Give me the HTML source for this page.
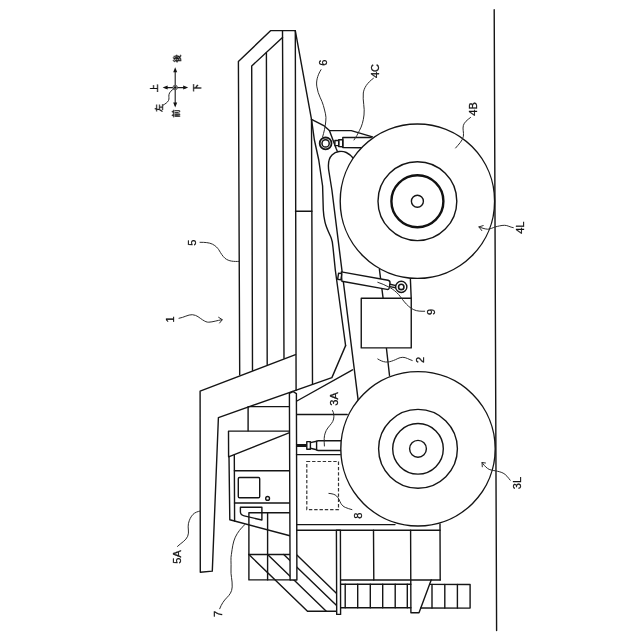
<!DOCTYPE html>
<html lang="ja">
<head>
<meta charset="utf-8">
<title>Dump truck side view</title>
<style>
html,body{margin:0;padding:0;background:#fff;width:640px;height:640px;overflow:hidden}
svg{display:block;position:absolute;left:0;top:0;filter:grayscale(1)}
.l{fill:none;stroke:#151515;stroke-width:1.4;stroke-linecap:round;stroke-linejoin:round}
.w{fill:#fff;stroke:#151515;stroke-width:1.4;stroke-linejoin:round}
.k{fill:none;stroke:#111;stroke-width:2.4}
.t{fill:none;stroke:#2a2a2a;stroke-width:1;stroke-linecap:round;stroke-linejoin:round}
.d{fill:none;stroke:#333;stroke-width:1.2;stroke-dasharray:3.4 1.9}
text{font-family:"Liberation Sans","Noto Sans CJK JP",sans-serif;font-size:11px;fill:#111;stroke:#111;stroke-width:0.3;text-anchor:middle}
.j{font-size:8px;stroke-width:0.15;font-family:"Liberation Sans","Noto Sans CJK JP",sans-serif;font-weight:700}
</style>
</head>
<body>
<svg width="640" height="640" viewBox="0 0 640 640">
<rect width="640" height="640" fill="#fff"/>

<!-- ground -->
<g id="ground">
<path class="l" d="M494.2 9.7L496.6 630.6"/>
</g>

<!-- dump body 5 -->
<g id="body">
<path class="l" d="M239.7 374.7L238.4 61.4L270.8 30.6L295.3 30.6"/>
<path class="l" d="M252.5 370.3L251.7 66L282.5 37.5"/>
<path class="l" d="M267.2 364.5L266.4 52.8"/>
<path class="l" d="M284 358.3L282.5 30.6"/>
<path class="l" d="M295.3 30.6L296.1 390.3"/>
<path class="l" d="M295.3 30.6L311.5 119.4L312.5 384.4"/>
<path class="l" d="M295.5 211.3L311.9 211.3"/>
</g>

<!-- canopy 5A -->
<g id="canopy">
<path class="l" d="M295.5 354.7L200.1 391.2L200.3 572.2L212.3 571.1L218.4 417.6L331.9 377.6L345.6 345.6"/>
</g>

<!-- frame 2 -->
<g id="frame">
<path class="l" d="M345.6 345.6L335.3 270L333 247.5Q332.6 241.5 331.2 238C329.3 233.5 326.3 228 325 222.2C324 218 323.5 214 323.3 210L322.6 186L318.75 160L314.4 140L311.5 119.4"/>
<path class="l" d="M358.2 400.6L331.9 190L329 172C327.6 164 329 158 332 155C336 151 342 150.5 346.3 152.5C349.5 154 352 156.5 353.75 158.75"/>
<path class="l" d="M296.9 401L352.5 369.8"/>
<path class="l" d="M296.4 414.5L347.2 414.5"/>
<path class="l" d="M311.5 119.4L323.75 125.6L329.4 130.6L351.25 130.6L372.5 136.9"/>
<path class="l" d="M329.4 130.6L336.25 148.75L337.3 151.3"/>
<path class="l" d="M386.4 348L389.5 375.3"/>
</g>

<!-- hoist pin 6 and rear suspension cylinder 4C -->
<g id="rear-susp">
<circle class="w" cx="325.6" cy="143.4" r="5.9" style="stroke-width:1.8"/>
<circle class="l" cx="325.6" cy="143.4" r="3.6" style="stroke-width:1.5"/>
<rect class="w" x="334.9" y="140.5" width="3.8" height="5.1"/>
<path class="l" d="M338.7 139.8L342.8 139.6L342.8 146.7L338.7 146.5Z"/>
<path class="l" d="M371.2 137.5L342.8 137.5L342.8 147.6L361.5 147.8"/>
</g>

<!-- hoist cylinder 9 -->
<g id="hoist">
<path class="l" d="M379.4 269.4L383.1 298.1"/>
<path class="l" d="M410.4 279.4L411.2 298.1"/>
<path class="w" d="M341.3 271.9L388 280.2Q390.3 280.8 390 283L389.4 287.5Q389 289.8 386.9 289.4L341.9 281.3Z"/>
<rect class="w" x="338.1" y="273.3" width="3.3" height="6.2" transform="rotate(9 339.7 276.4)"/>
<path class="l" d="M390 284.3L396 285.6M389.8 286.6L395.8 287.7"/>
<circle class="w" cx="401.25" cy="286.9" r="5.6"/>
<circle class="l" cx="401.25" cy="286.9" r="2.7" style="stroke-width:1.6"/>
<rect class="w" x="361.25" y="298.2" width="50" height="49.7"/>
</g>

<!-- cab 7 -->
<g id="cab">
<path class="l" d="M248.1 430.8L248.1 406.6L289.6 406.6"/>
<path class="l" d="M289.6 431.1L228.5 431.1L228.6 456.8L289.6 432.6"/>
<path class="l" d="M229 456.8L229.8 519.7L289.9 535.8"/>
<path class="l" d="M234.3 455L234.6 521"/>
<path class="l" d="M234.4 470.8L289.8 470.8"/>
<path class="l" d="M234.5 503L290 503"/>
<rect class="l" x="238.3" y="477.5" width="21.4" height="20.2" rx="1.2"/>
<circle class="l" cx="267.6" cy="498.4" r="1.9"/>
<path class="l" d="M240.4 507.3L261.9 507.3L261.9 520L244.2 515.9Q240.6 515 240.4 512Z"/>
<path class="l" d="M290 512.7L248.9 512.7L248.9 579.9L290.2 579.9"/>
<path class="l" d="M267.6 512.7L267.6 579.9"/>
<path class="l" d="M248.9 554.5L290 554.5"/>
</g>

<!-- stairs -->
<g id="stairs">
<path class="l" d="M248.9 554.5L307.5 611.25L336.6 611.25"/>
<path class="l" d="M267.6 554.5L326.3 611.25"/>
<path class="l" d="M283.75 554.5L336.6 605.6"/>
<path class="l" d="M296.9 555L336.6 593.4"/>
</g>

<!-- post -->
<g id="post">
<path class="w" d="M289.4 393.3L293 391.5L296.4 393.6L296.9 580L290.1 580Z"/>
</g>

<!-- front deck / bumper / ladder -->
<g id="front">
<path class="l" d="M296.5 454.6L340.3 454.6"/>
<path class="l" d="M296.7 524.6L395 524.6"/>
<path class="l" d="M296.7 530.3L440.1 530.3"/>
<path class="l" d="M440 524L440.2 580"/>
<path class="l" d="M340.6 580L440.2 580"/>
<path class="l" d="M373.5 530.3L373.8 580"/>
<path class="l" d="M410.6 530.3L410.9 612.7L419 612.7L431.2 580"/>
<path class="w" d="M336.4 530.3L340.4 530.3L340.6 614.4L336.7 614.4Z"/>
<path class="l" d="M340.6 584.3L410.9 584.3M340.6 607.8L410.9 607.8"/>
<path class="l" d="M345.2 584.3V607.8M357.7 584.3V607.8M370.3 584.3V607.8M382.7 584.3V607.8M395.2 584.3V607.8M407.3 584.3V607.8"/>
<path class="l" d="M429.6 584.4L470.1 584.5L470.1 608.1L420.8 608"/>
<path class="l" d="M432 584.4V608M444.8 584.4V608M457.4 584.4V608"/>
</g>

<!-- front suspension cylinder 3A -->
<g id="front-susp">
<path class="l" d="M296.6 444.8L306.8 444.8M296.6 446.3L306.8 446.3"/>
<rect class="w" x="306.8" y="441.6" width="3.6" height="7.6"/>
<path class="l" d="M310.4 442.6L316.6 441.2M310.4 448.3L316.6 449.8"/>
<path class="l" d="M341 440.7L318 440.7Q316.6 440.7 316.6 442L316.6 449.2Q316.6 450.5 318 450.5L341 450.5"/>
<rect class="d" x="306.8" y="461.5" width="31.7" height="48.1"/>
</g>

<!-- tyres -->
<g id="tyres">
<circle class="w" cx="417.4" cy="201.2" r="77.2"/>
<circle class="l" cx="417.4" cy="201.2" r="39.4"/>
<circle class="k" cx="417.4" cy="201.2" r="26"/>
<circle class="l" cx="417.4" cy="201.2" r="6"/>
<circle class="w" cx="418" cy="448.8" r="77.2"/>
<circle class="l" cx="418" cy="448.8" r="39.4"/>
<circle class="l" cx="418" cy="448.8" r="25.3"/>
<circle class="l" cx="418" cy="448.8" r="8.4"/>
</g>

<!-- leader lines -->
<g id="leaders">
<path class="t" d="M321 69.7C317 76 316 82 316.9 86.9C318 95 322 100 323.4 105.6C325 112 326.5 116 325.8 121C325.3 127 324 132 322.6 137"/>
<path class="t" d="M373.4 78.3C367 83 364 88 363.3 93C362.5 101 365 108 364 115C363.3 121 362 126 359.4 130.6C358 134 356 137 354 140"/>
<path class="t" d="M200 242.3C205 242.3 209 242.5 212.5 244.2C216 246 217.5 248 218.75 249.7C221 253.5 222.5 256 225 258.3C229 261.5 234 261.6 239.2 261.4"/>
<path class="t" d="M179 318.3C184 317.5 188 314.5 192.3 314.7C197 315 199.5 318 202.5 319.8C205 321.5 207 322.3 208.75 322.2C213 322 217 320.5 222 319.7"/>
<path class="t" d="M218.6 317.3L222.3 319.7L219.6 323"/>
<path class="t" d="M177.5 546.4C181 543 186 540.5 187.7 536.25C189.5 532 187.5 528 188.4 523.75C189.3 519.5 191 516.5 193 514.4C195 512.3 198 511.5 200.2 511"/>
<path class="t" d="M219.7 608.75C221.5 604 224 600.5 226.7 597.8C229.5 595 232 592 232.2 586.9C232.5 580 230.5 575 231 569C231.3 563 230.5 558 231.4 554.4C232.3 548 233 542 235.3 537.2C237.5 532.5 241 528 244.7 524.7"/>
<path class="t" d="M412.2 360.5C409 359.5 406 357.3 402.8 357.3C399 357.3 396.5 359.5 393.4 360.5C391 361.5 388.5 362.2 385.6 362C382.5 361.7 380 360.3 377.8 359"/>
<path class="t" d="M424.7 311.25C421 311.3 417 311.3 413.75 309.7C410 308 407 305 404.4 301.9C401.5 298.5 399.5 295 396.6 292.5C394 290 391.5 288.3 388.75 287C385 285 381.5 283.5 377.8 282.3"/>
<path class="t" d="M328.9 493.4C332 493.6 334.8 494.3 336.6 496C339 498.3 339.6 501.3 341 503.6C342.2 505.5 343.5 506.6 345.3 507.4C347.5 508.4 349.8 509 351.9 509.6"/>
<path class="t" d="M470.5 117.5C467 120 464.3 122.5 463.4 125.3C462.3 129 464 132.5 463.4 136.25C462.5 141 458.5 144.5 455.6 148"/>
<path class="t" d="M513.3 227.7C510 227.2 507.5 225.3 504.7 225.3C501 225.3 498 226.3 495.3 226.9C492.5 227.8 490 229.3 487.5 229.2C484.5 229 481.5 227.8 478.9 226.9"/>
<path class="t" d="M483.2 225.6L478.9 226.9L481.8 230.6"/>
<path class="t" d="M510.2 480.2C508 477.5 506 474.5 503.1 473.1C500.5 471.8 498 471.4 495.3 470.8C492.5 470.3 489.5 470 487.5 468.4C485 466.5 483.5 464.5 482 462.5"/>
<path class="t" d="M485.5 463L482 462.5L482.3 466.8"/>
<path class="t" d="M332.5 410.5C334 413 334.2 416 333.6 419C333 422.5 330 425 327.8 428C325.5 431 324.3 435 324.2 438.5C324.1 441 324.3 443.5 324.4 446"/>
</g>

<!-- reference numerals -->
<g id="labels" style="opacity:0.999">
<text transform="translate(327 62.7) rotate(-90)">6</text>
<text transform="translate(379.4 71) rotate(-90)">4C</text>
<text transform="translate(196.2 242.7) rotate(-90)">5</text>
<text transform="translate(174.1 319.4) rotate(-90)">1</text>
<text transform="translate(181.2 556.9) rotate(-90)">5A</text>
<text transform="translate(222 614) rotate(-90)">7</text>
<text transform="translate(423.6 360) rotate(-90)">2</text>
<text transform="translate(435.3 312) rotate(-90)">9</text>
<text transform="translate(361.6 515.6) rotate(-90)">8</text>
<text transform="translate(338 399) rotate(-90)">3A</text>
<text transform="translate(477 109) rotate(-90)">4B</text>
<text transform="translate(523.7 227.7) rotate(-90)">4L</text>
<text transform="translate(521.1 483) rotate(-90)">3L</text>
</g>

<!-- direction indicator -->
<g id="compass" style="opacity:0.999">
<path class="t" style="stroke:#1a1a1a;stroke-width:1.1" d="M175.2 70L175.2 105M165 87.6L186 87.6"/>
<path fill="#111" d="M175.2 67.3L177.2 72.3L173.2 72.3Z"/>
<path fill="#111" d="M175.2 107.6L177.2 102.6L173.2 102.6Z"/>
<path fill="#111" d="M162.6 87.6L167.6 85.6L167.6 89.6Z"/>
<path fill="#111" d="M188.2 87.6L183.2 85.6L183.2 89.6Z"/>
<circle cx="175.2" cy="87.5" r="2.3" fill="#aaa" stroke="#444" stroke-width="0.8"/>
<circle cx="175.2" cy="87.5" r="1.2" fill="#111"/>
<path class="t" style="stroke:#222" d="M174 88.5C171.5 90.5 169.5 92 169 94.5C168.5 97 169.5 98.5 168.5 100.5C167.5 102.5 165 104 163.4 105"/>
<text class="j" transform="translate(179.8 58.4) rotate(-90)">後</text>
<text class="j" transform="translate(200 87.7) rotate(-90)">下</text>
<text class="j" transform="translate(157.2 88.3) rotate(-90)">上</text>
<text class="j" transform="translate(179 113.6) rotate(-90)">前</text>
<text class="j" transform="translate(161.8 108) rotate(-90)">左</text>
</g>
</svg>
</body>
</html>
